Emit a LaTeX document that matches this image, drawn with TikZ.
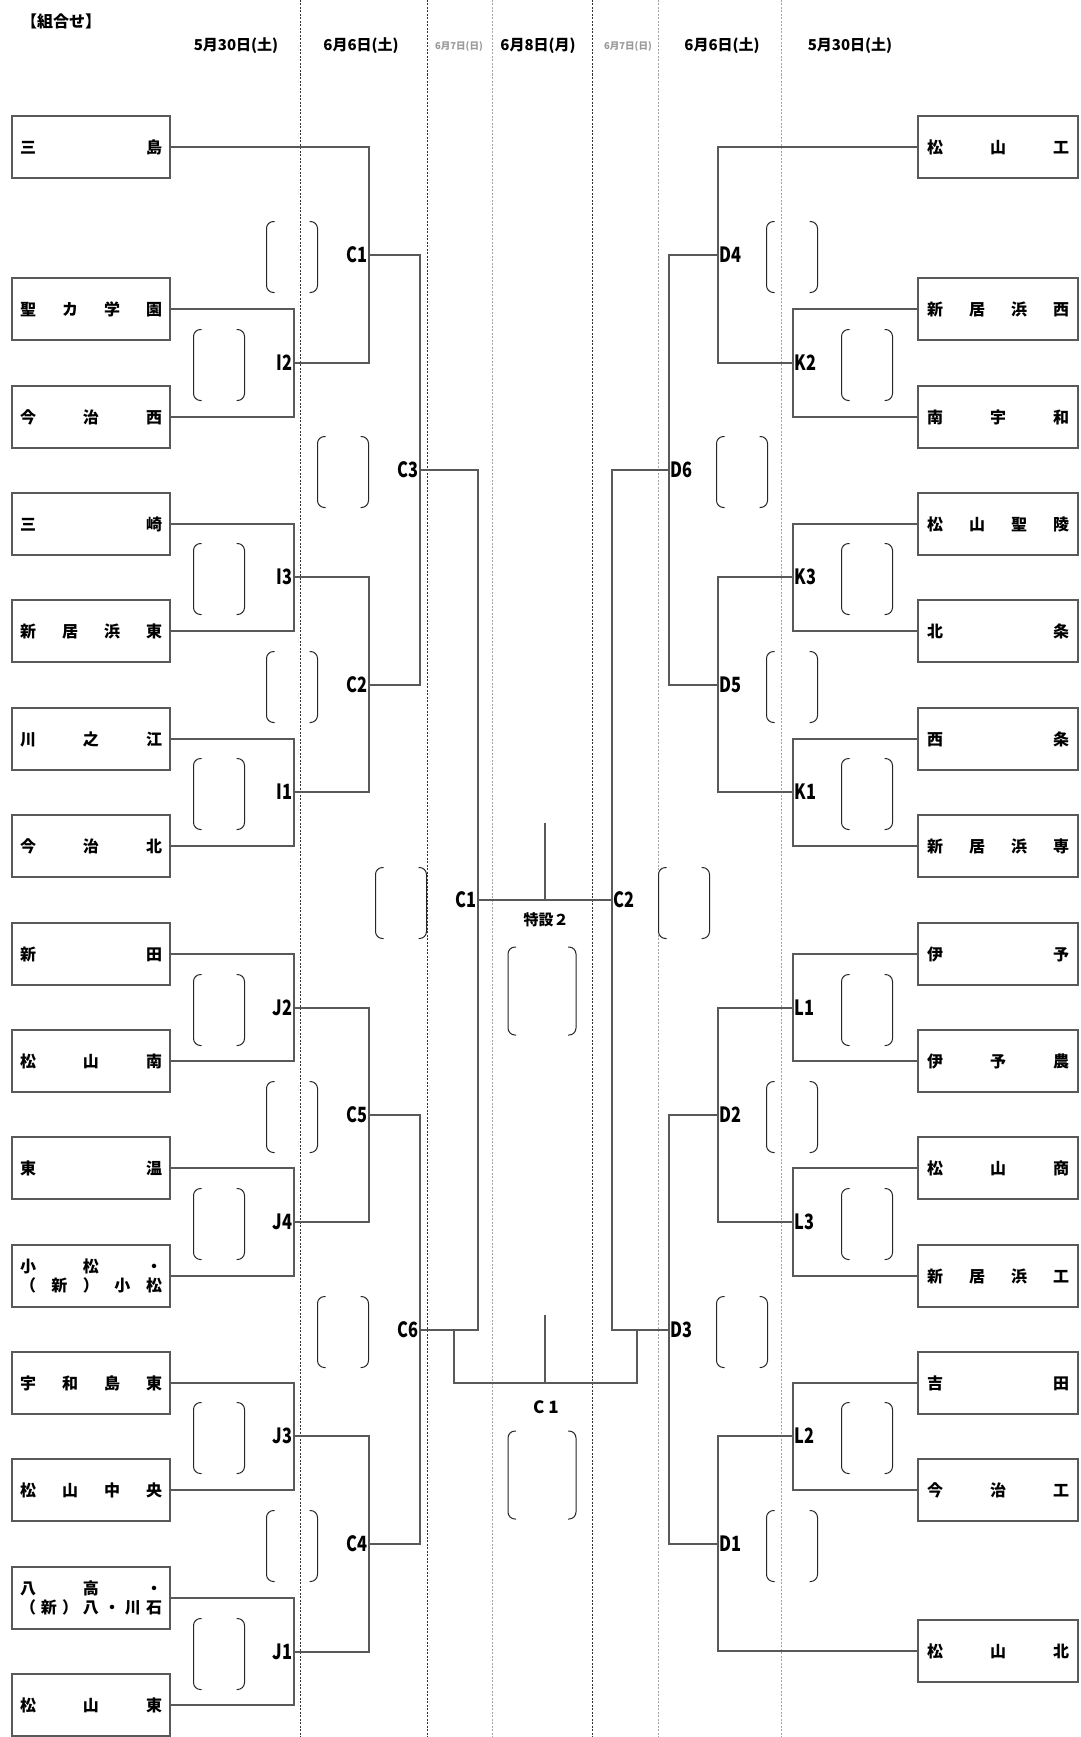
\documentclass[tikz,border=0pt]{standalone}
\usepackage{fontspec}
\setmainfont{Noto Sans CJK JP}
\usetikzlibrary{calc}

% spread the letters of a school name over the box
\newcommand\nm[1]{\makebox[142pt][s]{#1}}
\newcommand\lb[1]{\scalebox{.78}[1]{#1}}

\begin{document}
\begin{tikzpicture}[x=1pt, y=-1pt,
  team/.style={rectangle, draw=black!65, line width=1.6pt, minimum width=158pt, minimum height=62pt, inner sep=0pt, align=center, font=\fontsize{16}{19}\selectfont\bfseries},
  wire/.style={draw=black!65, line width=1.6pt},
  paren/.style={draw=black!85, line width=1pt, rounded corners=7pt},
  sepd/.style={draw=black!80, line width=1pt, dash pattern=on 2pt off 1.5pt},
  sepf/.style={draw=black!35, line width=1pt, dash pattern=on 2pt off 1.5pt},
  hd/.style={font=\fontsize{15}{17}\selectfont\bfseries},
  hdsmall/.style={font=\fontsize{9.5}{10}\selectfont\bfseries, text=black!40},
  mlab/.style={inner sep=1.5pt, font=\fontsize{21}{22}\selectfont\bfseries},
  ctext/.style={font=\fontsize{15}{17}\selectfont\bfseries}]

  \fill[white] (0,0) rectangle (1081,1737);
  \useasboundingbox (0,0) rectangle (1081,1737);

  % day columns
  \foreach \x in {300,427,592} \draw[sepd] (\x,0) -- (\x,1737);
  \foreach \x in {492,658,781} \draw[sepf] (\x,0) -- (\x,1737);

  \node[hd, font=\fontsize{16}{18}\selectfont\bfseries] (title) at (61,21) {【組合せ】};
  \node[hd] (day1l) at (236,46) {5月30日(土)};
  \node[hd] (day2l) at (361,46) {6月6日(土)};
  \node[hdsmall] (day3l) at (459,46) {6月7日(日)};
  \node[hd] (day4) at (538,46) {6月8日(月)};
  \node[hdsmall] (day3r) at (628,46) {6月7日(日)};
  \node[hd] (day2r) at (722,46) {6月6日(土)};
  \node[hd] (day1r) at (850,46) {5月30日(土)};

  % west teams
  \node[team] (w0) at (91,147) {\nm{三\hfill 島}};
  \node[team] (w1) at (91,309) {\nm{聖\hfill カ\hfill 学\hfill 園}};
  \node[team] (w2) at (91,417) {\nm{今\hfill 治\hfill 西}};
  \node[team] (w3) at (91,524) {\nm{三\hfill 崎}};
  \node[team] (w4) at (91,631) {\nm{新\hfill 居\hfill 浜\hfill 東}};
  \node[team] (w5) at (91,739) {\nm{川\hfill 之\hfill 江}};
  \node[team] (w6) at (91,846) {\nm{今\hfill 治\hfill 北}};
  \node[team] (w7) at (91,954) {\nm{新\hfill 田}};
  \node[team] (w8) at (91,1061) {\nm{松\hfill 山\hfill 南}};
  \node[team] (w9) at (91,1168) {\nm{東\hfill 温}};
  \node[team] (w10) at (91,1276) {\nm{小\hfill 松\hfill ・}\\\nm{（\hfill 新\hfill ）\hfill 小\hfill 松}};
  \node[team] (w11) at (91,1383) {\nm{宇\hfill 和\hfill 島\hfill 東}};
  \node[team] (w12) at (91,1490) {\nm{松\hfill 山\hfill 中\hfill 央}};
  \node[team] (w13) at (91,1598) {\nm{八\hfill 高\hfill ・}\\\nm{（\hfill 新\hfill ）\hfill 八\hfill ・\hfill 川\hfill 石}};
  \node[team] (w14) at (91,1705) {\nm{松\hfill 山\hfill 東}};

  % east teams
  \node[team, minimum width=160pt] (e0) at (998,147) {\nm{松\hfill 山\hfill 工}};
  \node[team, minimum width=160pt] (e1) at (998,309) {\nm{新\hfill 居\hfill 浜\hfill 西}};
  \node[team, minimum width=160pt] (e2) at (998,417) {\nm{南\hfill 宇\hfill 和}};
  \node[team, minimum width=160pt] (e3) at (998,524) {\nm{松\hfill 山\hfill 聖\hfill 陵}};
  \node[team, minimum width=160pt] (e4) at (998,631) {\nm{北\hfill 条}};
  \node[team, minimum width=160pt] (e5) at (998,739) {\nm{西\hfill 条}};
  \node[team, minimum width=160pt] (e6) at (998,846) {\nm{新\hfill 居\hfill 浜\hfill 専}};
  \node[team, minimum width=160pt] (e7) at (998,954) {\nm{伊\hfill 予}};
  \node[team, minimum width=160pt] (e8) at (998,1061) {\nm{伊\hfill 予\hfill 農}};
  \node[team, minimum width=160pt] (e9) at (998,1168) {\nm{松\hfill 山\hfill 商}};
  \node[team, minimum width=160pt] (e10) at (998,1276) {\nm{新\hfill 居\hfill 浜\hfill 工}};
  \node[team, minimum width=160pt] (e11) at (998,1383) {\nm{吉\hfill 田}};
  \node[team, minimum width=160pt] (e12) at (998,1490) {\nm{今\hfill 治\hfill 工}};
  \node[team, minimum width=160pt] (e13) at (998,1651) {\nm{松\hfill 山\hfill 北}};

  % match points
  \coordinate (i2) at (294,363);
  \coordinate (i3) at (294,577);
  \coordinate (i1) at (294,792);
  \coordinate (j2) at (294,1008);
  \coordinate (j4) at (294,1222);
  \coordinate (j3) at (294,1436);
  \coordinate (j1) at (294,1652);
  \coordinate (c1) at (369,255);
  \coordinate (c2) at (369,685);
  \coordinate (c5) at (369,1115);
  \coordinate (c4) at (369,1544);
  \coordinate (c3) at (420,470);
  \coordinate (c6) at (420,1330);
  \coordinate (fl) at (478,900);

  \coordinate (k2) at (793,363);
  \coordinate (k3) at (793,577);
  \coordinate (k1) at (793,792);
  \coordinate (l1) at (793,1008);
  \coordinate (l3) at (793,1222);
  \coordinate (l2) at (793,1436);
  \coordinate (d4) at (718,255);
  \coordinate (d5) at (718,685);
  \coordinate (d2) at (718,1115);
  \coordinate (d1) at (718,1544);
  \coordinate (d6) at (669,470);
  \coordinate (d3) at (669,1330);
  \coordinate (fr) at (612,900);

  \coordinate (ft) at (545,823);
  \coordinate (fm) at (545,900);
  \coordinate (bl) at (454,1330);
  \coordinate (br) at (637,1330);
  \coordinate (bt) at (545,1315);
  \coordinate (bm) at (545,1383);

  % west half
  \draw[wire] (w1.east) -| (i2) |- (w2.east);
  \draw[wire] (w3.east) -| (i3) |- (w4.east);
  \draw[wire] (w5.east) -| (i1) |- (w6.east);
  \draw[wire] (w7.east) -| (j2) |- (w8.east);
  \draw[wire] (w9.east) -| (j4) |- (w10.east);
  \draw[wire] (w11.east) -| (j3) |- (w12.east);
  \draw[wire] (w13.east) -| (j1) |- (w14.east);
  \draw[wire] (w0.east) -| (c1) |- (i2);
  \draw[wire] (i3) -| (c2) |- (i1);
  \draw[wire] (j2) -| (c5) |- (j4);
  \draw[wire] (j3) -| (c4) |- (j1);
  \draw[wire] (c1) -| (c3) |- (c2);
  \draw[wire] (c5) -| (c6) |- (c4);
  \draw[wire] (c3) -| (fl) |- (c6);

  % east half
  \draw[wire] (e1.west) -| (k2) |- (e2.west);
  \draw[wire] (e3.west) -| (k3) |- (e4.west);
  \draw[wire] (e5.west) -| (k1) |- (e6.west);
  \draw[wire] (e7.west) -| (l1) |- (e8.west);
  \draw[wire] (e9.west) -| (l3) |- (e10.west);
  \draw[wire] (e11.west) -| (l2) |- (e12.west);
  \draw[wire] (e0.west) -| (d4) |- (k2);
  \draw[wire] (k3) -| (d5) |- (k1);
  \draw[wire] (l1) -| (d2) |- (l3);
  \draw[wire] (l2) -| (d1) |- (e13.west);
  \draw[wire] (d4) -| (d6) |- (d5);
  \draw[wire] (d2) -| (d3) |- (d1);
  \draw[wire] (d6) -| (fr) |- (d3);

  % final and C1
  \draw[wire] (fl) -- (fr);
  \draw[wire] (ft) -- (fm);
  \draw[wire] (bl) |- (bm) -| (br);
  \draw[wire] (bt) -- (bm);

  % match labels
  \node[mlab, anchor=east] (ti2) at (i2) {\lb{I2}};
  \node[mlab, anchor=east] (ti3) at (i3) {\lb{I3}};
  \node[mlab, anchor=east] (ti1) at (i1) {\lb{I1}};
  \node[mlab, anchor=east] (tj2) at (j2) {\lb{J2}};
  \node[mlab, anchor=east] (tj4) at (j4) {\lb{J4}};
  \node[mlab, anchor=east] (tj3) at (j3) {\lb{J3}};
  \node[mlab, anchor=east] (tj1) at (j1) {\lb{J1}};
  \node[mlab, anchor=east] (tc1) at (c1) {\lb{C1}};
  \node[mlab, anchor=east] (tc2) at (c2) {\lb{C2}};
  \node[mlab, anchor=east] (tc5) at (c5) {\lb{C5}};
  \node[mlab, anchor=east] (tc4) at (c4) {\lb{C4}};
  \node[mlab, anchor=east] (tc3) at (c3) {\lb{C3}};
  \node[mlab, anchor=east] (tc6) at (c6) {\lb{C6}};
  \node[mlab, anchor=east] (tfl) at (fl) {\lb{C1}};
  \node[mlab, anchor=west] (tk2) at (k2) {\lb{K2}};
  \node[mlab, anchor=west] (tk3) at (k3) {\lb{K3}};
  \node[mlab, anchor=west] (tk1) at (k1) {\lb{K1}};
  \node[mlab, anchor=west] (tl1) at (l1) {\lb{L1}};
  \node[mlab, anchor=west] (tl3) at (l3) {\lb{L3}};
  \node[mlab, anchor=west] (tl2) at (l2) {\lb{L2}};
  \node[mlab, anchor=west] (td4) at (d4) {\lb{D4}};
  \node[mlab, anchor=west] (td5) at (d5) {\lb{D5}};
  \node[mlab, anchor=west] (td2) at (d2) {\lb{D2}};
  \node[mlab, anchor=west] (td1) at (d1) {\lb{D1}};
  \node[mlab, anchor=west] (td6) at (d6) {\lb{D6}};
  \node[mlab, anchor=west] (td3) at (d3) {\lb{D3}};
  \node[mlab, anchor=west] (tfr) at (fr) {\lb{C2}};

  \node[ctext] (sp2) at (546,920) {特設２};
  \node[ctext, font=\fontsize{17}{19}\selectfont\bfseries] (cone) at (546,1407) {C 1};

  % score brackets
  \foreach \x/\y in {219/365,219/579,219/794,219/1010,219/1224,219/1438,219/1654,
                     292/257,292/687,292/1117,292/1546,343/472,343/1332,401/903,
                     867/365,867/579,867/794,867/1010,867/1224,867/1438,
                     792/257,792/687,792/1117,792/1546,742/472,742/1332,684/903}{
    \draw[paren] (\x-17.5,\y-35.5) -- (\x-25.5,\y-35.5) -- (\x-25.5,\y+35.5) -- (\x-17.5,\y+35.5);
    \draw[paren] (\x+17.5,\y-35.5) -- (\x+25.5,\y-35.5) -- (\x+25.5,\y+35.5) -- (\x+17.5,\y+35.5);
  }
  \foreach \x/\y in {542/991,542/1475}{
    \draw[paren] (\x-26,\y-44) -- (\x-34,\y-44) -- (\x-34,\y+44) -- (\x-26,\y+44);
    \draw[paren] (\x+26,\y-44) -- (\x+34,\y-44) -- (\x+34,\y+44) -- (\x+26,\y+44);
  }

\end{tikzpicture}
\end{document}
